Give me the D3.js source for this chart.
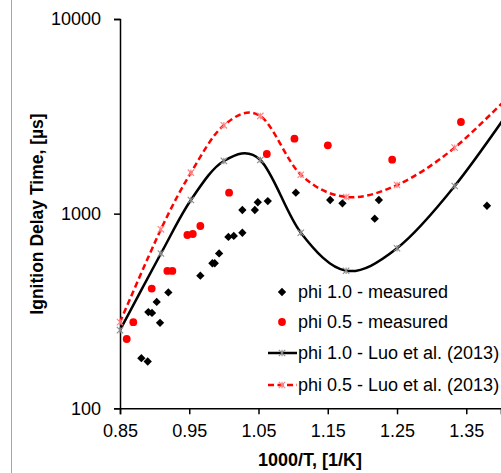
<!DOCTYPE html>
<html>
<head>
<meta charset="utf-8">
<script src="https://cdn.jsdelivr.net/npm/d3@7"></script>
<style>
  body { margin: 0; background: #fff; }
  svg { display: block; font-family: "Liberation Sans", Arial, sans-serif; }
  .axis path, .axis line { stroke: #000; stroke-width: 1.5; }
  .axis text { font-size: 18px; fill: #000; }
</style>
</head>
<body>
<svg width="501" height="473"></svg>
<script>
// Luo et al. (2013) model, points every 50 K
var luoX = [0.85, 0.9091, 0.9524, 1.0, 1.0526, 1.1111, 1.1765, 1.25, 1.3333, 1.4286];
var luoPhi10 = [252, 624, 1175, 1865, 1887, 798, 509, 664, 1387, 4100];
var luoPhi05 = [277, 831, 1623, 2844, 3176, 1585, 1218, 1403, 2183, 4620];

// measured
var measX10 = [0.8808, 0.890, 0.8909, 0.8962, 0.903, 0.9078, 0.9198, 0.966, 0.9834, 0.9868, 0.9931, 1.0065,
               1.0143, 1.0267, 1.0267, 1.0447, 1.049, 1.0634, 1.1039, 1.1535, 1.1712, 1.2178, 1.2238, 1.3799];
var measY10 = [181, 174, 312, 309, 352, 275, 394, 480, 556, 556, 625, 759,
               768, 798, 1044, 1044, 1144, 1161, 1281, 1175, 1130, 942, 1175, 1098];
var measX05 = [0.8597, 0.8692, 0.8958, 0.9184, 0.9256, 0.9473, 0.9551, 0.966, 1.0075, 1.062, 1.1019, 1.1501, 1.243, 1.3423];
var measY05 = [227, 277, 412, 508, 508, 777, 786, 864, 1281, 2025, 2427, 2245, 1893, 2957];

var xTicks = [0.85, 0.95, 1.05, 1.15, 1.25, 1.35];
var yTicks = [100, 1000, 10000];
var legendLabels = ["phi 1.0 - measured", "phi 0.5 - measured", "phi 1.0 - Luo et al. (2013)", "phi 0.5 - Luo et al. (2013)"];

var svg = d3.select("svg");

var x = d3.scaleLinear().domain([0.85, 1.40]).range([120, 500.9]);
var y = d3.scaleLog().domain([100, 10000]).range([408.3, 19]);

// left border line of the picture
svg.append("line")
    .attr("x1", 11.5).attr("x2", 11.5)
    .attr("y1", 0).attr("y2", 473)
    .attr("stroke", "#a6a6a6");

svg.append("defs").append("clipPath").attr("id", "plot")
    .append("rect").attr("x", 110).attr("y", 0).attr("width", 391).attr("height", 420);

svg.append("g")
    .attr("class", "axis")
    .attr("transform", "translate(0," + y(100) + ")")
    .call(d3.axisBottom(x).tickValues(xTicks).tickFormat(d3.format(".2f")).tickSizeOuter(0).tickSize(6).tickPadding(10));

svg.append("g")
    .attr("class", "axis")
    .attr("transform", "translate(" + x(0.85) + ",0)")
    .call(d3.axisLeft(y).tickValues(yTicks).tickFormat(d3.format("d")).tickSizeOuter(0).tickSize(6).tickPadding(13));

svg.append("text")
    .attr("x", 310).attr("y", 466)
    .attr("text-anchor", "middle")
    .attr("font-weight", "bold")
    .attr("font-size", "18px")
    .text("1000/T, [1/K]");

svg.append("text")
    .attr("transform", "translate(37,214) rotate(-90)")
    .attr("text-anchor", "middle")
    .attr("dominant-baseline", "central")
    .attr("font-weight", "bold")
    .attr("font-size", "17.5px")
    .text("Ignition Delay Time, [µs]");

var plot = svg.append("g").attr("clip-path", "url(#plot)");

var diamond = d3.symbol().type(d3.symbolDiamond2).size(44);
var star = function(s) {
    return "M" + -s + "," + -s + "L" + s + "," + s + "M" + -s + "," + s + "L" + s + "," + -s + "M0," + -s + "L0," + s;
};

var m10 = measX10.map(function(v, i) { return [v, measY10[i]]; });
var m05 = measX05.map(function(v, i) { return [v, measY05[i]]; });
var l10 = luoX.map(function(v, i) { return [v, luoPhi10[i]]; });
var l05 = luoX.map(function(v, i) { return [v, luoPhi05[i]]; });

plot.selectAll(".d10").data(m10).enter().append("path")
    .attr("transform", function(d) { return "translate(" + x(d[0]) + "," + y(d[1]) + ")"; })
    .attr("d", diamond)
    .attr("fill", "#000");

plot.selectAll(".c05").data(m05).enter().append("circle")
    .attr("cx", function(d) { return x(d[0]); })
    .attr("cy", function(d) { return y(d[1]); })
    .attr("r", 3.9)
    .attr("fill", "#ff0000");

var line = d3.line()
    .x(function(d) { return x(d[0]); })
    .y(function(d) { return y(d[1]); })
    .curve(d3.curveCardinal.tension(0));

plot.append("path").datum(l10)
    .attr("d", line)
    .attr("fill", "none")
    .attr("stroke", "#000")
    .attr("stroke-width", 2.5);

plot.selectAll(".s10").data(l10).enter().append("path")
    .attr("transform", function(d) { return "translate(" + x(d[0]) + "," + y(d[1]) + ")"; })
    .attr("d", star(3.2))
    .attr("stroke", "#8c8c8c")
    .attr("stroke-width", 1.1)
    .attr("fill", "none");

plot.append("path").datum(l05)
    .attr("d", line)
    .attr("fill", "none")
    .attr("stroke", "#ff0000")
    .attr("stroke-width", 2.5)
    .attr("stroke-dasharray", "6,3.5");

plot.selectAll(".s05").data(l05).enter().append("path")
    .attr("transform", function(d) { return "translate(" + x(d[0]) + "," + y(d[1]) + ")"; })
    .attr("d", star(3.2))
    .attr("stroke", "#ff8080")
    .attr("stroke-width", 1.1)
    .attr("fill", "none");

// legend
var leg = svg.append("g");
var rowY = [292, 322, 353, 385];
leg.append("path").attr("transform", "translate(282," + rowY[0] + ")").attr("d", diamond).attr("fill", "#000");
leg.append("circle").attr("cx", 282).attr("cy", rowY[1]).attr("r", 3.9).attr("fill", "#ff0000");
leg.append("line").attr("x1", 268).attr("x2", 297).attr("y1", rowY[2]).attr("y2", rowY[2])
    .attr("stroke", "#000").attr("stroke-width", 2.5);
leg.append("path").attr("transform", "translate(282," + rowY[2] + ")").attr("d", star(3.2))
    .attr("stroke", "#8c8c8c").attr("stroke-width", 1.1);
leg.append("line").attr("x1", 268).attr("x2", 297).attr("y1", rowY[3]).attr("y2", rowY[3])
    .attr("stroke", "#ff0000").attr("stroke-width", 2.5).attr("stroke-dasharray", "6,3.5");
leg.append("path").attr("transform", "translate(282," + rowY[3] + ")").attr("d", star(3.2))
    .attr("stroke", "#ff8080").attr("stroke-width", 1.1);

leg.selectAll(".lt").data(legendLabels).enter().append("text")
    .attr("x", 298)
    .attr("y", function(d, i) { return rowY[i]; })
    .attr("dy", "0.35em")
    .attr("font-size", "18px")
    .attr("fill", "#000")
    .text(function(d) { return d; });
</script>
</body>
</html>
